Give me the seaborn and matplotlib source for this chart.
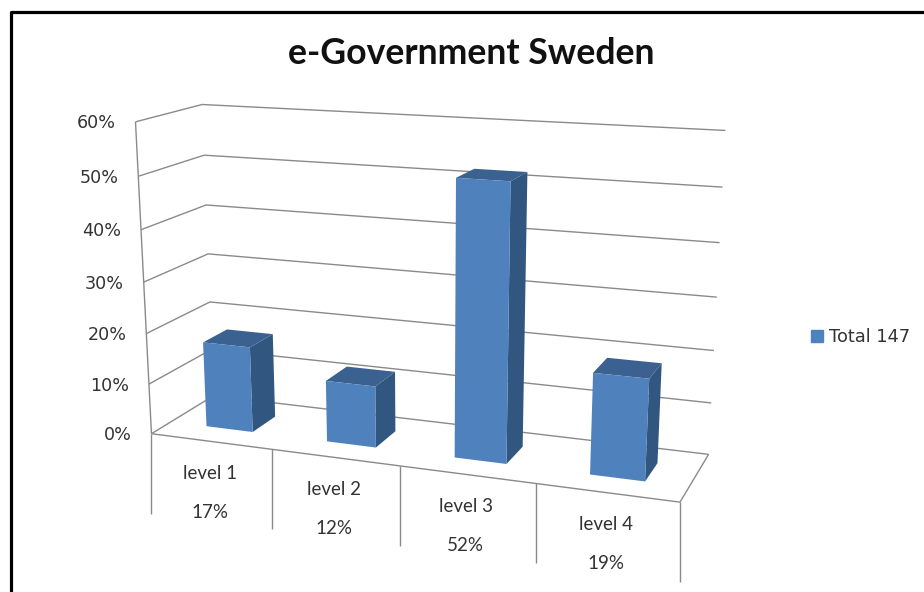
import numpy as np
import pandas as pd
import matplotlib
matplotlib.use("Agg")
import matplotlib.pyplot as plt
import matplotlib.path as mpath
import matplotlib.transforms as mtransforms
from matplotlib.patches import Polygon, Patch
import seaborn as sns

# ---- data ----
levels = ["level 1", "level 2", "level 3", "level 4"]
shares = [17, 12, 52, 19]
share_labels = ["17%", "12%", "52%", "19%"]
value_ticks = [0, 10, 20, 30, 40, 50, 60]
series_name = "Total 147"
title_text = "e-Government Sweden"

# ---- style / layout ----
W, H = 924, 592
FRONT, SIDE, TOP = "#4F81BD", "#31567F", "#3A618F"
GRID = "#8A8A8A"
TEXT = "#333333"
BAR_WIDTH = 0.39
BAR_D0, BAR_D1 = 0.30, 0.69

# camera calibration: (category pos, value, depth) -> picture pixel
calib_world = [(-.5, 60, 0), (-.5, 50, 0), (-.5, 40, 0), (-.5, 30, 0), (-.5, 20, 0), (-.5, 10, 0), (-.5, 0, 0),
               (.5, 0, 0), (1.5, 0, 0), (2.5, 0, 0), (3.5, 0, 0),
               (-.5, 60, 1), (-.5, 50, 1), (-.5, 40, 1), (-.5, 30, 1),
               (3.5, 60, 1), (3.5, 50, 1), (3.5, 40, 1), (3.5, 30, 1), (3.5, 20, 1), (3.5, 10, 1), (3.5, 0, 1)]
calib_pixel = [(135, 122), (138.7, 176), (141.5, 229.5), (143.5, 282), (146.7, 333), (149.3, 384), (152, 434),
               (270.7, 450), (400, 467), (534.7, 483), (680.7, 501.7),
               (201.5, 104), (204.7, 155.5), (206, 205), (208, 254),
               (725, 130.5), (722.7, 187.7), (719.7, 243), (716.3, 297), (715, 351), (711.7, 402), (708, 454)]


def fit_camera(world, pixel):
    rows, rhs = [], []
    for (x, v, d), (u, w) in zip(world, pixel):
        rows.append([x, v, d, 1, 0, 0, 0, 0, -u * x, -u * v, -u * d]); rhs.append(u)
        rows.append([0, 0, 0, 0, x, v, d, 1, -w * x, -w * v, -w * d]); rhs.append(w)
    p = np.linalg.lstsq(np.array(rows, float), np.array(rhs, float), rcond=None)[0]
    return np.append(p, 1.0).reshape(3, 4)


CAM = fit_camera(calib_world, calib_pixel)


def project(x, v, d):
    h = CAM @ np.array([x, v, d, 1.0])
    return h[0] / h[2], h[1] / h[2]


pixel_tf = mtransforms.Affine2D().scale(1, -1).translate(0, H)


class DepthPlane(mtransforms.Transform):
    """Maps (category position, value) on one depth plane to display space."""
    input_dims = output_dims = 2
    is_separable = False
    has_inverse = False

    def __init__(self, plane):
        super().__init__()
        self.plane = plane

    def transform_non_affine(self, values):
        values = np.asarray(values, float)
        one = np.ones(len(values))
        hom = CAM @ np.column_stack([values[:, 0], values[:, 1], one * self.plane, one]).T
        return np.column_stack([hom[0] / hom[2], H - hom[1] / hom[2]])

    def transform_path_non_affine(self, path):
        return mpath.Path(self.transform_non_affine(path.vertices), path.codes)


sns.set_theme(style="white")
plt.rcParams["font.family"] = ["Lato", "DejaVu Sans"]

fig = plt.figure(figsize=(W / 100, H / 100), dpi=100, facecolor="white")
ax = fig.add_axes([0, 0, 1, 1])
df = pd.DataFrame({"level": levels, "share": shares})
sns.barplot(data=df, x="level", y="share", color=FRONT, saturation=1, width=BAR_WIDTH,
            order=levels, ax=ax, zorder=5, linewidth=0, errorbar=None)
ax.set_xlim(-0.5, 3.5)
ax.set_ylim(0, 60)
ax.axis("off")


def pline(pts, lw=1.0, color=GRID, z=1):
    xs, ys = zip(*pts)
    ax.plot(xs, ys, color=color, lw=lw, transform=pixel_tf, zorder=z, solid_capstyle="butt", clip_on=False)


# picture frame
pline([(11, H), (11, 11.5), (W, 11.5)], lw=2.3, color="black", z=10)

# walls and floor
xl, xr = -0.5, 3.5
for v in value_ticks:
    pline([project(xl, v, 0), project(xl, v, 1), project(xr, v, 1)])
    px, py = project(xl, v, 0)
    ax.text(px - 20, py + 1.5, f"{v}%", ha="right", va="center", fontsize=12.6, color=TEXT,
            family="DejaVu Sans", transform=pixel_tf)
pline([project(xl, 60, 0), project(xl, 0, 0), project(xr, 0, 0), project(xr, 0, 1)])

# category separators and labels
for i in range(5):
    px, py = project(i - 0.5, 0, 0)
    pline([(px, py), (px, py + 80)])
label_gap = 39
for i, (name, lab) in enumerate(zip(levels, share_labels)):
    px, py = project(i, 0, 0)
    ax.text(px - 1, py + 32, name, ha="center", va="center", fontsize=13.5, color=TEXT, transform=pixel_tf)
    ax.text(px - 1, py + 32 + label_gap, lab, ha="center", va="center", fontsize=13.5, color=TEXT, transform=pixel_tf)

# seaborn's bars become the front faces; sides and tops extend them in depth
for bar in list(ax.patches):
    x0, x1 = bar.get_x(), bar.get_x() + bar.get_width()
    v = bar.get_height()
    bar.set_transform(DepthPlane(BAR_D0))
    bar.set_clip_on(False)
    side = [project(x1, 0, BAR_D0), project(x1, v, BAR_D0), project(x1, v, BAR_D1), project(x1, 0, BAR_D1)]
    top = [project(x0, v, BAR_D0), project(x1, v, BAR_D0), project(x1, v, BAR_D1), project(x0, v, BAR_D1)]
    ax.add_patch(Polygon(side, closed=True, fc=SIDE, ec="none", transform=pixel_tf, zorder=4, clip_on=False))
    ax.add_patch(Polygon(top, closed=True, fc=TOP, ec="none", transform=pixel_tf, zorder=4, clip_on=False))

ax.text(471.5, 53, title_text, ha="center", va="center", fontsize=25.7, fontweight="bold",
        color="#111111", transform=pixel_tf)

leg = ax.legend(handles=[Patch(color=FRONT, label=series_name)], loc="center left",
                bbox_to_anchor=(811, 337), bbox_transform=pixel_tf, frameon=False,
                prop={"family": "DejaVu Sans", "size": 12.8}, labelcolor=TEXT,
                handlelength=0.7, handleheight=0.7, handletextpad=0.3, borderpad=0, borderaxespad=0)

fig.savefig("out.png", dpi=100, facecolor="white")
